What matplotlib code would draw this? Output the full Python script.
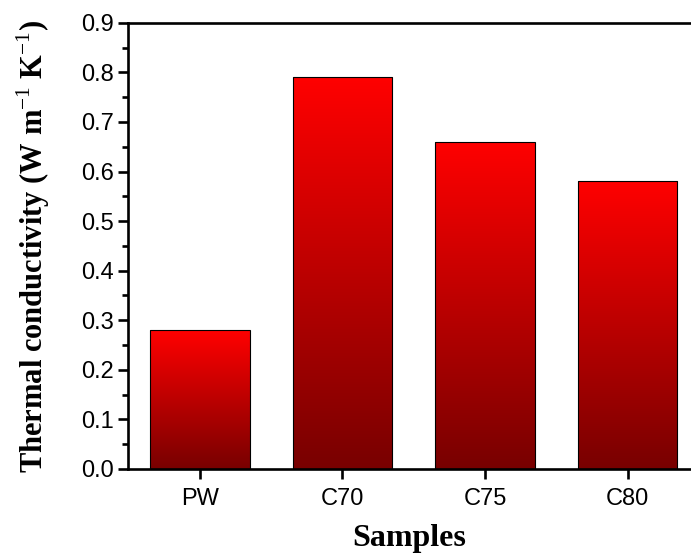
import matplotlib.pyplot as plt
import numpy as np
from matplotlib.colors import LinearSegmentedColormap
from matplotlib.ticker import MultipleLocator

# data
samples = ["PW", "C70", "C75", "C80"]
conductivity = [0.28, 0.79, 0.66, 0.58]

plt.rcParams["mathtext.fontset"] = "custom"
plt.rcParams["mathtext.rm"] = "Liberation Serif"
plt.rcParams["mathtext.bf"] = "Liberation Serif:bold"

fig = plt.figure(figsize=(6.91, 5.57), dpi=100)
ax = fig.add_axes([0.185, 0.158, 0.815, 0.801])

x = np.arange(len(samples))
bars = ax.bar(x, conductivity, width=0.7, color="none", edgecolor="black",
              linewidth=0.8, zorder=3)

# vertical red gradient in each bar
cmap = LinearSegmentedColormap.from_list("redgrad", ["#780000", "#ff0000"])
grad = np.linspace(0, 1, 256).reshape(-1, 1)
for b in bars:
    x0, y0 = b.get_x(), b.get_y()
    w, h = b.get_width(), b.get_height()
    im = ax.imshow(grad, cmap=cmap, origin="lower", aspect="auto",
                   extent=[x0, x0 + w, y0, y0 + h], zorder=2)
    im.set_clip_path(b)

ax.set_xlim(-0.505, 3.445)
ax.set_ylim(0, 0.9)
ax.set_xticks(x)
ax.set_xticklabels(samples)
ax.yaxis.set_major_locator(MultipleLocator(0.1))
ax.yaxis.set_minor_locator(MultipleLocator(0.05))
ax.set_yticks(np.arange(0, 0.91, 0.1))
ax.set_yticklabels([f"{v:.1f}" for v in np.arange(0, 0.91, 0.1)])

for s in ["left", "bottom", "top"]:
    ax.spines[s].set_linewidth(1.9)
ax.spines["right"].set_visible(False)

ax.tick_params(axis="both", which="major", direction="out", length=7, width=1.9,
               labelsize=17)
ax.tick_params(axis="x", which="major", pad=7)
ax.tick_params(axis="y", which="major", pad=3)
ax.tick_params(axis="y", which="minor", direction="out", length=4, width=1.9)
ax.tick_params(axis="x", which="minor", bottom=False)
for lab in ax.get_xticklabels() + ax.get_yticklabels():
    lab.set_fontfamily("Liberation Sans")

ax.set_xlabel("Samples", fontfamily="Liberation Serif", fontweight="bold",
              fontsize=23, labelpad=10)
ax.set_ylabel(r"Thermal conductivity (W m$^{-1}$ K$^{-1}$)",
              fontfamily="Liberation Serif", fontweight="bold", fontsize=22,
              labelpad=21)

fig.savefig("out.png", dpi=100, facecolor="white")
